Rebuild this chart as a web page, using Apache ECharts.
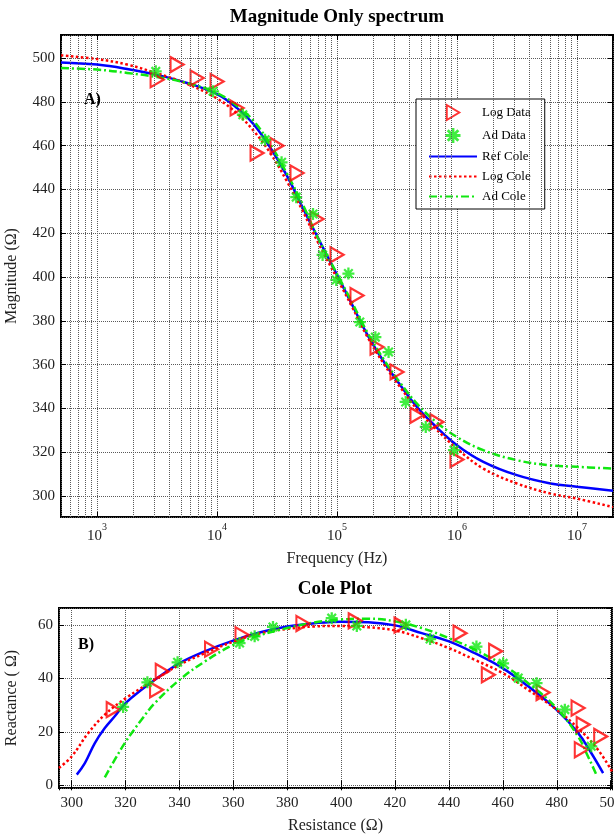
<!DOCTYPE html>
<html>
<head>
<meta charset="utf-8">
<script src="https://cdn.jsdelivr.net/npm/echarts@6/dist/echarts.min.js"></script>
<style>
  html, body { margin: 0; padding: 0; background: #fff; }
  #chart { width: 615px; height: 837px; }
</style>
</head>
<body>
<div id="chart"></div>
<script>
// A) 幅值谱 - 拟合曲线的频率点 (Hz)
const curveFreq = [500, 1000, 1780, 3160, 5620, 10000, 14800, 20000, 27500, 38000, 52500, 69200,
  100000, 132000, 178000, 245000, 339000, 468000, 646000, 1000000, 1660000, 3160000, 6030000,
  10000000, 20000000]
const refColeMag = [498.0, 497.0, 495.0, 492.3, 488.6, 483.5, 477.0, 470.0, 459.5, 446.5, 431.0, 418.0,
  401.0, 388.0, 374.0, 361.5, 350.5, 340.5, 332.5, 323.3, 315.7, 309.6, 305.8, 304.3, 302.5]
const logColeMag = [501.2, 499.5, 497.0, 493.0, 488.2, 481.5, 474.5, 467.0, 457.0, 444.0, 429.5, 416.0,
  399.5, 387.0, 373.0, 360.5, 349.5, 339.5, 331.5, 321.7, 312.6, 305.8, 301.2, 298.9, 295.0]
const adColeMag = [495.4, 494.7, 493.2, 491.3, 488.6, 484.0, 478.0, 471.5, 461.0, 447.5, 432.5, 418.0,
  401.5, 389.0, 375.0, 362.5, 351.5, 342.0, 334.6, 327.0, 321.0, 316.4, 314.1, 313.4, 312.6]

// 测量点
const logDataFreq = [3162, 4642, 6813, 10000, 14678, 21544, 31623, 46416, 68129, 100000, 146780,
  215440, 316230, 464160, 681290, 1000000]
const logDataMag = [490.1, 497.0, 490.9, 489.3, 477.2, 456.6, 460.0, 447.5, 426.5, 410.2, 391.6,
  368.1, 356.7, 336.9, 333.9, 316.7]
const adDataFreq = [3083, 9268, 16410, 25120, 34510, 45710, 63100, 75860, 98600, 124500, 154900,
  208900, 269200, 374100, 549500, 944100]
const adDataMag = [493.9, 484.8, 474.1, 462.7, 452.4, 436.5, 428.8, 410.1, 398.7, 401.6, 379.5,
  372.6, 365.8, 343.0, 331.6, 321.0]

// B) Cole 图 - 电阻 / 电抗
const refColeR = [301.9, 304.9, 308.6, 312.3, 316.0, 320.1, 325.9, 330.9, 340.1, 349.4, 360.2, 370.4,
  380.0, 390.1, 400.0, 410.1, 420.0, 429.9, 440.0, 449.6, 459.9, 469.4, 479.9, 487.9, 492.8, 497.2]
const refColeX = [4.0, 8.3, 15.8, 21.4, 25.8, 30.8, 35.7, 39.5, 45.7, 50.1, 54.2, 57.3,
  59.4, 60.6, 61.2, 61.0, 59.8, 56.9, 53.8, 49.4, 43.8, 37.0, 28.3, 19.6, 12.1, 4.6]
const logColeR = [295.3, 300.0, 306.2, 312.3, 320.1, 330.9, 340.1, 349.4, 360.2, 370.4, 380.0, 390.1,
  400.0, 410.1, 420.0, 429.9, 440.0, 449.6, 459.9, 469.4, 479.9, 487.9, 495.3, 500.5]
const logColeX = [6.5, 10.8, 19.6, 26.4, 32.6, 39.5, 45.1, 49.4, 53.8, 56.9, 58.5, 59.4,
  59.6, 59.1, 57.9, 55.0, 51.3, 46.9, 42.0, 35.7, 28.3, 21.4, 13.3, 5.2]
const adColeR = [312.3, 316.0, 320.1, 325.9, 330.9, 340.1, 349.4, 360.2, 370.4, 380.0, 390.1, 400.0,
  410.1, 420.0, 429.9, 440.0, 449.6, 459.9, 469.4, 479.9, 487.9, 491.6, 494.7]
const adColeX = [3.0, 9.6, 16.4, 24.5, 30.8, 39.5, 46.3, 52.6, 56.3, 58.8, 60.9, 62.0,
  62.3, 61.3, 58.8, 55.0, 50.7, 45.1, 38.2, 28.9, 18.3, 10.8, 4.0]

const logDataR = [315.4, 331.5, 333.6, 351.9, 363.2, 385.8, 405.2, 422.2, 444.1, 457.3, 454.6,
  474.9, 487.9, 489.8, 496.3, 489.1]
const logDataX = [28.3, 35.7, 42.6, 50.9, 56.3, 60.5, 61.5, 59.9, 56.9, 50.1, 41.3,
  34.7, 28.9, 22.7, 18.3, 13.3]
const adDataR = [319.1, 328.1, 339.3, 362.3, 367.9, 374.7, 396.5, 405.8, 424.0, 433.0, 450.2,
  460.1, 465.7, 472.5, 483.0, 492.8]
const adDataX = [29.3, 38.5, 46.0, 53.2, 55.7, 59.2, 62.5, 59.6, 60.0, 54.7, 51.9,
  45.6, 40.1, 38.2, 28.3, 14.6]

const legendNames = ['Log Data', 'Ad Data', 'Ref Cole', 'Log Cole', 'Ad Cole']
const lineNames = ['Ref Cole', 'Log Cole', 'Ad Cole']
const decades = [100, 1000, 10000, 100000, 1000000, 10000000]

const freqMin = 500
const freqMax = 20000000

// 对数坐标的次网格线 (2..9 x 10^n)
const minorFreq = []
decades.forEach((d) => {
  for (let k = 2; k <= 9; k++) {
    const v = k * d
    if (v > freqMin && v < freqMax) minorFreq.push(v)
  }
})

const zip = (a, b) => a.map((v, i) => [v, b[i]])

const serif = 'Liberation Serif'
const red = '#ff0000'
const blue = '#0000ff'
const green = '#10e810'
const triangle = 'path://M0,0 L10,6 L0,12 Z'
const star = 'path://M1,8.3 L19,8.3 L19,11.7 L1,11.7 Z M8.3,1 L11.7,1 L11.7,19 L8.3,19 Z ' +
  'M4.8,2.4 L17.6,15.2 L15.2,17.6 L2.4,4.8 Z M15.2,2.4 L17.6,4.8 L4.8,17.6 L2.4,15.2 Z'

const gridLine = { show: true, lineStyle: { color: '#5a5a5a', type: 'dotted', width: 1 } }
const tickIn = { show: true, inside: true, length: 5, lineStyle: { color: '#000', width: 1 } }
const labelText = { fontFamily: serif, fontSize: 15, color: '#222' }
const nameText = { fontFamily: serif, fontSize: 16, color: '#222' }

// 两个子图共用的系列
function makeSeries(xi, yi, d) {
  return [
    {
      name: 'Log Data', type: 'scatter', xAxisIndex: xi, yAxisIndex: yi, data: d.logData,
      symbol: triangle, symbolSize: [13, 15], z: 4,
      itemStyle: { color: 'rgba(255,255,255,0)', borderColor: red, borderWidth: 2.2 },
    },
    {
      name: 'Ad Data', type: 'scatter', xAxisIndex: xi, yAxisIndex: yi, data: d.adData,
      symbol: star, symbolSize: 12, z: 4,
      itemStyle: { color: green },
    },
    {
      name: 'Ref Cole', type: 'line', xAxisIndex: xi, yAxisIndex: yi, data: d.refCole,
      symbol: 'none', smooth: 0.4, z: 3,
      lineStyle: { color: blue, width: 2.5 }, itemStyle: { color: blue },
    },
    {
      name: 'Log Cole', type: 'line', xAxisIndex: xi, yAxisIndex: yi, data: d.logCole,
      symbol: 'none', smooth: 0.4, z: 3,
      lineStyle: { color: red, width: 2.5, type: [2.5, 2.5] }, itemStyle: { color: red },
    },
    {
      name: 'Ad Cole', type: 'line', xAxisIndex: xi, yAxisIndex: yi, data: d.adCole,
      symbol: 'none', smooth: 0.4, z: 3,
      lineStyle: { color: green, width: 2.5, type: [8, 3, 2, 3] }, itemStyle: { color: green },
    },
  ]
}

const topSeries = makeSeries(0, 0, {
  logData: zip(logDataFreq, logDataMag),
  adData: zip(adDataFreq, adDataMag),
  refCole: zip(curveFreq, refColeMag),
  logCole: zip(curveFreq, logColeMag),
  adCole: zip(curveFreq, adColeMag),
})
const bottomSeries = makeSeries(2, 2, {
  logData: zip(logDataR, logDataX),
  adData: zip(adDataR, adDataX),
  refCole: zip(refColeR, refColeX),
  logCole: zip(logColeR, logColeX),
  adCole: zip(adColeR, adColeX),
})

// 次网格线挂在一个空系列上
const minorGridSeries = {
  type: 'line', xAxisIndex: 0, yAxisIndex: 0, data: [], z: 1, silent: true,
  markLine: {
    silent: true, symbol: ['none', 'none'], label: { show: false },
    lineStyle: { color: '#5a5a5a', type: 'dotted', width: 1 },
    emphasis: { disabled: true },
    data: minorFreq.map((v) => ({ xAxis: v })),
  },
}

// 图例: 曲线项不显示圆点
const legendData = legendNames.map((name) =>
  lineNames.includes(name)
    ? { name, itemStyle: { color: 'rgba(0,0,0,0)', borderWidth: 0, opacity: 0 } }
    : { name }
)

const myChart = echarts.init(document.getElementById('chart'))

const option = {
  animation: false,
  backgroundColor: '#fff',
  textStyle: { fontFamily: serif },
  grid: [
    { left: 61, top: 35, width: 552, height: 482, show: true, borderColor: '#000', borderWidth: 2, outerBoundsMode: 'none', containLabel: false },
    { left: 59, top: 608, width: 553, height: 180, show: true, borderColor: '#000', borderWidth: 2, outerBoundsMode: 'none', containLabel: false },
  ],
  xAxis: [
    {
      gridIndex: 0, type: 'log', logBase: 10, min: freqMin, max: freqMax,
      name: 'Frequency (Hz)', nameLocation: 'middle', nameGap: 34, nameTextStyle: nameText,
      axisLine: { show: false }, axisTick: tickIn, splitLine: gridLine,
      axisLabel: {
        margin: 5, showMinLabel: false, showMaxLabel: false,
        formatter: (v) => '{b|10}{e|' + Math.round(Math.log10(v)) + '}',
        rich: {
          b: { fontFamily: serif, fontSize: 15, color: '#222', verticalAlign: 'bottom', lineHeight: 22 },
          e: { fontFamily: serif, fontSize: 10, color: '#222', verticalAlign: 'top', lineHeight: 22 },
        },
      },
    },
    {
      gridIndex: 0, type: 'log', logBase: 10, min: freqMin, max: freqMax, position: 'top',
      axisLine: { show: false }, axisTick: tickIn, axisLabel: { show: false }, splitLine: { show: false },
    },
    {
      gridIndex: 1, type: 'value', min: 295.3, max: 500.5, splitNumber: 10,
      name: 'Resistance (Ω)', nameLocation: 'middle', nameGap: 30, nameTextStyle: nameText,
      axisLine: { show: false }, axisTick: tickIn, splitLine: gridLine,
      axisLabel: { ...labelText, margin: 8, showMinLabel: false, showMaxLabel: false },
    },
    {
      gridIndex: 1, type: 'value', min: 295.3, max: 500.5, splitNumber: 10, position: 'top',
      axisLine: { show: false }, axisTick: tickIn, axisLabel: { show: false }, splitLine: { show: false },
    },
  ],
  yAxis: [
    {
      gridIndex: 0, type: 'value', min: 290.5, max: 510.5, splitNumber: 11,
      name: 'Magnitude (Ω)', nameLocation: 'middle', nameGap: 41, nameTextStyle: nameText,
      axisLine: { show: false }, axisTick: tickIn, splitLine: gridLine,
      axisLabel: { ...labelText, margin: 6, showMinLabel: false, showMaxLabel: false },
    },
    {
      gridIndex: 0, type: 'value', min: 290.5, max: 510.5, splitNumber: 11, position: 'right',
      axisLine: { show: false }, axisTick: tickIn, axisLabel: { show: false }, splitLine: { show: false },
    },
    {
      gridIndex: 1, type: 'value', min: -1, max: 66.3, splitNumber: 3,
      name: 'Reactance ( Ω)', nameLocation: 'middle', nameGap: 39, nameTextStyle: nameText,
      axisLine: { show: false }, axisTick: tickIn, splitLine: gridLine,
      axisLabel: { ...labelText, margin: 6, showMinLabel: false, showMaxLabel: false },
    },
    {
      gridIndex: 1, type: 'value', min: -1, max: 66.3, splitNumber: 3, position: 'right',
      axisLine: { show: false }, axisTick: tickIn, axisLabel: { show: false }, splitLine: { show: false },
    },
  ],
  legend: {
    data: legendData, orient: 'vertical', left: 416, top: 99,
    itemWidth: 48, itemHeight: 15, itemGap: 7, padding: [5, 14, 6, 12],
    backgroundColor: '#fff', borderColor: '#000', borderWidth: 1, borderRadius: 0,
    selectedMode: false,
    textStyle: { fontFamily: serif, fontSize: 13, color: '#000' },
  },
  graphic: [
    {
      type: 'text', x: 337, y: 17, silent: true,
      style: { text: 'Magnitude Only spectrum', font: 'bold 19px "Liberation Serif"', fill: '#000', align: 'center', verticalAlign: 'middle' },
    },
    {
      type: 'text', x: 335, y: 589, silent: true,
      style: { text: 'Cole Plot', font: 'bold 19px "Liberation Serif"', fill: '#000', align: 'center', verticalAlign: 'middle' },
    },
    {
      type: 'text', x: 84, y: 100, silent: true, z: 10,
      style: { text: 'A)', font: 'bold 16px "Liberation Serif"', fill: '#000', align: 'left', verticalAlign: 'middle' },
    },
    {
      type: 'text', x: 78, y: 645, silent: true, z: 10,
      style: { text: 'B)', font: 'bold 16px "Liberation Serif"', fill: '#000', align: 'left', verticalAlign: 'middle' },
    },
  ],
  series: [minorGridSeries, ...topSeries, ...bottomSeries],
}

myChart.setOption(option)
</script>
</body>
</html>
